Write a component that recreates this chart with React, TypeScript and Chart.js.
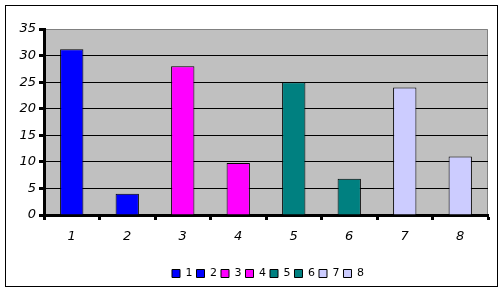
import React, { useEffect, useRef } from "react";
import { Chart, registerables } from "chart.js";

Chart.register(...registerables);

const categories = ["1", "2", "3", "4", "5", "6", "7", "8"];
const values = [31.2, 4, 28, 9.8, 25, 6.8, 24, 11];
const barColors = ["#0000ff", "#0000ff", "#ff00ff", "#ff00ff", "#008080", "#008080", "#ccccff", "#ccccff"];
const yTicks = [0, 5, 10, 15, 20, 25, 30, 35];

const framePlugin = {
  id: "frame",
  beforeDraw(chart: any) {
    const { ctx, chartArea } = chart;
    ctx.save();
    ctx.fillStyle = "#ffffff";
    ctx.fillRect(0, 0, chart.width, chart.height);
    ctx.strokeStyle = "#000000";
    ctx.lineWidth = 1;
    ctx.strokeRect(5.5, 5.5, 492, 281);
    ctx.fillStyle = "#c0c0c0";
    ctx.fillRect(chartArea.left, chartArea.top, chartArea.right - chartArea.left, chartArea.bottom - chartArea.top);
    ctx.strokeStyle = "#808080";
    ctx.beginPath();
    ctx.moveTo(chartArea.left, chartArea.top + 0.5);
    ctx.lineTo(chartArea.right - 0.5, chartArea.top + 0.5);
    ctx.lineTo(chartArea.right - 0.5, chartArea.bottom);
    ctx.stroke();
    ctx.restore();
  },
  afterLayout(chart: any) {
    if (chart.legend) {
      chart.legend.left += 21;
      chart.legend.right += 21;
    }
  },
};

export default function App() {
  const ref = useRef<HTMLCanvasElement>(null);
  useEffect(() => {
    if (!ref.current) return;
    const chart = new Chart(ref.current, {
      type: "bar",
      data: {
        labels: categories,
        datasets: [
          {
            data: values,
            backgroundColor: barColors,
            borderColor: "#000000",
            borderWidth: 1,
            barPercentage: 0.42,
            categoryPercentage: 1,
          },
        ],
      },
      plugins: [framePlugin],
      options: {
        responsive: false,
        animation: false,
        layout: { padding: { left: 6, top: 29, right: 16, bottom: 3 } },
        plugins: {
          tooltip: { enabled: false },
          legend: {
            position: "bottom",
            labels: {
              boxWidth: 8,
              boxHeight: 8,
              padding: 4,
              color: "#000000",
              font: { family: "DejaVu Sans", size: 11 },
              generateLabels: () =>
                categories.map((c, i) => ({
                  text: c,
                  fillStyle: barColors[i],
                  strokeStyle: "#000000",
                  lineWidth: 1,
                  hidden: false,
                  index: i,
                  fontColor: "#000000",
                })),
            },
          },
        },
        scales: {
          x: {
            offset: true,
            afterFit: (s: any) => {
              s.height = 49;
            },
            grid: {
              offset: true,
              drawOnChartArea: false,
              drawTicks: true,
              tickLength: 5,
              tickWidth: 3,
              tickColor: "#000000",
            },
            border: { color: "#000000", width: 3 },
            ticks: {
              color: "#000000",
              padding: 9,
              font: { family: "DejaVu Sans", size: 13, style: "italic" },
            },
          },
          y: {
            min: 0,
            max: 35,
            afterFit: (s: any) => {
              s.width = 38;
            },
            afterBuildTicks: (s: any) => {
              s.ticks = yTicks.map((v) => ({ value: v }));
            },
            grid: {
              color: (c: any) => (c.tick && c.tick.value === 35 ? "rgba(0,0,0,0)" : "#000000"),
              lineWidth: 1,
              drawTicks: true,
              tickLength: 5,
              tickWidth: 3,
              tickColor: "#000000",
            },
            border: { color: "#000000", width: 3 },
            ticks: {
              color: "#000000",
              padding: 3,
              font: { family: "DejaVu Sans", size: 13, style: "italic" },
            },
          },
        },
      },
    });
    return () => chart.destroy();
  }, []);
  return (
    <div style={{ position: "fixed", left: 0, top: 0, width: 504, height: 292 }}>
      <canvas ref={ref} width={504} height={292} style={{ width: 504, height: 292 }} />
    </div>
  );
}
